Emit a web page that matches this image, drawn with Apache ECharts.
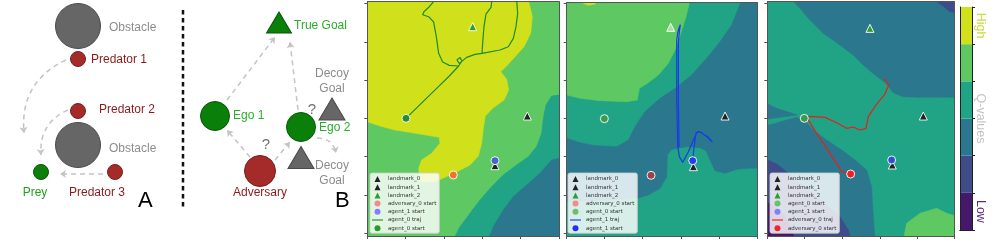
<!DOCTYPE html>
<html><head><meta charset="utf-8">
<script src="https://cdn.jsdelivr.net/npm/echarts@6/dist/echarts.min.js"></script>
<style>html,body{margin:0;padding:0;background:#fff}#c{width:997px;height:244px}</style>
</head><body><div id="c"></div><script>
// ---------------- DATA ----------------
// Diagram panels A / B (figure pixel coordinates)
const nodeNames = ['Obstacle','Predator 1','Predator 2','Obstacle','Prey','Predator 3','True Goal','Ego 1','Ego 2','Adversary','Decoy\nGoal','Decoy\nGoal'];
const nodeKind  = ['obstacle','predator','predator','obstacle','prey','predator','goal','ego','ego','adversary','decoy','decoy'];
const nodeX = [78, 78, 78, 78, 41, 115, 279, 215, 301, 260, 332, 301];
const nodeY = [26, 59, 111, 145, 172, 172, 22.5, 116, 127, 171, 109, 157.5];
const arrowFrom = [[66,60],[68,110],[103,174],[250,157],[275,160],[227,100],[298,110],[317,138]];
const arrowTo   = [[24,133],[41,155],[60,174],[227,130],[290,142],[275,37],[290,42],[336,153]];
const arrowBend = [-0.35,-0.35,0,0,0,0,0,0.4];
const separatorLine = [[183,10],[183,210]];
const questionMarks = ['?','?'];
const panelLetters = ['A','B','C(i)','C(ii)','C(iii)'];

// Q-value contour levels (0 = low ... 5 = high), plot coordinates
const c1Levels = [4,5,3,2];
const c1Polys = [
  [[0,0],[700,0],[700,720],[0,720]],
  [[0,0],[505,0],[517,50],[512,100],[492,140],[465,170],[440,198],[422,215],[440,238],[446,270],[432,300],[398,325],[376,348],[370,385],[365,430],[355,468],[330,495],[292,515],[255,532],[225,545],[180,545],[176,505],[185,480],[215,460],[240,430],[238,412],[180,402],[105,390],[60,378],[22,365],[0,364]],
  [[700,270],[575,288],[558,315],[550,355],[545,400],[530,440],[505,470],[470,495],[430,525],[395,560],[360,600],[330,640],[300,680],[280,720],[700,720]],
  [[700,450],[575,480],[540,520],[500,555],[460,590],[430,630],[400,680],[385,720],[700,720]]
];
const c2Levels = [3,4,5,2];
const c2Polys = [
  [[0,0],[700,0],[700,720],[0,720]],
  [[0,0],[390,0],[378,50],[362,100],[345,150],[325,190],[295,225],[262,250],[238,265],[232,300],[200,305],[120,302],[60,295],[20,285],[0,283]],
  [[65,0],[112,0],[105,12],[85,16],[70,10]],
  [[545,0],[700,0],[700,500],[560,505],[530,508],[495,520],[465,512],[450,480],[438,452],[420,443],[380,440],[335,448],[322,465],[320,530],[300,565],[265,585],[230,595],[150,600],[20,605],[0,605],[0,415],[20,415],[60,428],[105,437],[170,440],[205,420],[228,375],[255,335],[300,295],[350,262],[395,225],[440,175],[480,125],[515,75]]
];
const c3Levels = [3,2,1,2,2,1,0,4];
const c3Polys = [
  [[0,0],[700,0],[700,720],[0,720]],
  [[95,0],[700,0],[700,290],[540,292],[480,292],[430,290],[400,278],[378,250],[345,225],[310,195],[280,165],[240,135],[190,100],[150,60],[120,25]],
  [[525,0],[700,0],[700,50],[570,35],[545,15]],
  [[0,380],[40,372],[80,360],[110,352],[135,362],[160,390],[200,420],[245,450],[285,480],[320,510],[335,560],[338,620],[345,720],[0,720]],
  [[0,300],[50,325],[112,345],[60,352],[0,360]],
  [[0,470],[50,492],[100,530],[150,575],[200,615],[240,650],[265,690],[275,720],[0,720]],
  [[0,600],[40,615],[75,650],[95,690],[105,720],[0,720]],
  [[430,720],[440,670],[480,640],[530,625],[560,640],[700,680],[700,720]]
];

// Markers per panel
const c1Landmark0 = [[502,348]], c1Landmark1 = [[405,497]], c1Landmark2 = [[338,80]];
const c1Adversary = [[280,525]], c1Agent1 = [[405,482]], c1Agent0 = [[138,355]];
const c1Traj = [
  [[138,355],[180,314],[230,265],[268,228],[296,198],[306,183],[300,172],[291,180],[298,190],[320,172],[345,163],[366,160],[368,130],[372,80],[378,42],[393,22],[396,0]],
  [[225,0],[208,20],[192,35],[188,44],[206,50],[221,66],[229,110],[236,160],[248,186],[268,196],[296,198]],
  [[366,160],[420,150],[445,140],[460,115],[468,80],[473,40],[470,0]]
];
const c2Landmark0 = [[495,348]], c2Landmark1 = [[400,500]], c2Landmark2 = [[332,82]];
const c2Adversary = [[273,526]], c2Agent0 = [[133,356]], c2Agent1 = [[398,482]];
const c2Traj = [
  [[398,482],[402,440],[408,398],[420,396],[445,412],[457,426],[440,410],[425,398],[412,395],[400,420],[385,455],[368,487],[358,470],[353,440],[350,300],[350,120],[353,98],[357,84],[361,74],[358,95],[355,125],[355,300],[357,442]]
];
const c3Landmark0 = [[490,348]], c3Landmark1 = [[397,495]], c3Landmark2 = [[330,85]];
const c3Agent0 = [[133,355]], c3Agent1 = [[395,480]], c3Adversary = [[272,522]];
const c3Traj = [
  [[272,522],[245,515],[230,490],[200,445],[170,400],[140,352],[150,349],[195,352],[230,368],[260,385],[280,381],[300,390],[318,385],[325,350],[350,312],[375,282],[386,255],[372,235]]
];
const c1Legend = ['landmark_0','landmark_1','landmark_2','adversary_0 start','agent_1 start','agent_0 traj','agent_0 start'];
const c2Legend = ['landmark_0','landmark_1','landmark_2','adversary_0 start','agent_0 start','agent_1 traj','agent_1 start'];
const c3Legend = ['landmark_0','landmark_1','landmark_2','agent_0 start','agent_1 start','adversary_0 traj','adversary_0 start'];

// Colour bar
const cbLevels = [0,1,2,3,4,5];
const cbLabels = ['Low','Q-values','High'];
const cbLabelAt = [0.5, 3, 5.5];

// ---------------- STYLE ----------------
const LEVEL_COLORS = ['#46186c','#3e4c8a','#2b788e','#21a386','#5ec962','#d0e11c'];
const kindStyle = {
  obstacle: {symbol:'circle', size:45, color:'#666666', border:'#4a4a4a', label:'#8c8c8c'},
  predator: {symbol:'circle', size:15, color:'#a52a2a', border:'#7a1d1d', label:'#8b1a1a'},
  prey:     {symbol:'circle', size:15, color:'#0a7f0a', border:'#065806', label:'#1f9f1f'},
  goal:     {symbol:'triangle', size:[25,21], color:'#0a7f0a', border:'#065806', label:'#2aae2a'},
  ego:      {symbol:'circle', size:29, color:'#0a7f0a', border:'#065806', label:'#2aae2a'},
  adversary:{symbol:'circle', size:31, color:'#a52a2a', border:'#7a1d1d', label:'#8b1a1a'},
  decoy:    {symbol:'triangle', size:[26,22], color:'#666666', border:'#4a4a4a', label:'#8c8c8c'}
};
// label anchors [x, y, align]
const labelAnchor = [[109,28,'left'],[91,60,'left'],[99,110,'left'],[109,149,'left'],[35,193,'center'],[97,193,'center'],
  [294,26,'left'],[233,116,'left'],[319,128,'left'],[260,193,'center'],[332,81.5,'center'],[332,173,'center']];
const qmarkPos = [[266,145],[312,110]];
const letterPos = [[138,201,22],[335,201,22],[517,204,24],[703,204,24],[900,204,24]];

const panels = [
  {grid:{left:367.3, top:1.7, width:191.7, height:234.3}, x:[22,597], y:[5,708],
   xt:[22,137,252,367,482,597], yt:[10,127,241,355,470,586,700], levels:c1Levels, polys:c1Polys, legend:c1Legend, legendLeft:370,
   trajName:'agent_0 traj', traj:c1Traj, trajColor:'#1f8a1f',
   markers:[
     {name:'landmark_0', data:c1Landmark0, symbol:'triangle', color:'#222', size:8, leg:'#222'},
     {name:'landmark_1', data:c1Landmark1, symbol:'triangle', color:'#222', size:8, leg:'#222'},
     {name:'landmark_2', data:c1Landmark2, symbol:'triangle', color:'#2ca02c', size:8, leg:'#2ca02c'},
     {name:'adversary_0 start', data:c1Adversary, symbol:'circle', color:'#f07428', size:8, leg:'#f58a8a'},
     {name:'agent_1 start', data:c1Agent1, symbol:'circle', color:'#4a64c8', size:8, leg:'#8080ff'},
     {name:'agent_0 start', data:c1Agent0, symbol:'circle', color:'#2a8c2a', size:8, leg:'#2a9a2a'}
   ]},
  {grid:{left:566.7, top:2.7, width:190.7, height:233.3}, x:[20,592], y:[8,708],
   xt:[20,134,248,363,478,592], yt:[10,127,241,355,470,586,700], levels:c2Levels, polys:c2Polys, legend:c2Legend, legendLeft:568,
   trajName:'agent_1 traj', traj:c2Traj, trajColor:'#1a3be8',
   markers:[
     {name:'landmark_0', data:c2Landmark0, symbol:'triangle', color:'#222', size:8, leg:'#222'},
     {name:'landmark_1', data:c2Landmark1, symbol:'triangle', color:'#222', size:8, leg:'#222'},
     {name:'landmark_2', data:c2Landmark2, symbol:'triangle', color:'#a9dfa0', size:8, leg:'#2ca02c'},
     {name:'adversary_0 start', data:c2Adversary, symbol:'circle', color:'#9e4048', size:8, leg:'#f58a8a'},
     {name:'agent_0 start', data:c2Agent0, symbol:'circle', color:'#3a9a4e', size:8, leg:'#6cbf6c'},
     {name:'agent_1 start', data:c2Agent1, symbol:'circle', color:'#2040f0', size:8, leg:'#1f2ff5'}
   ]},
  {grid:{left:767.3, top:1.7, width:187, height:234.3}, x:[22,583], y:[5,708],
   xt:[22,134,247,360,472,583], yt:[10,127,241,355,470,586,700], levels:c3Levels, polys:c3Polys, legend:c3Legend, legendLeft:770,
   trajName:'adversary_0 traj', traj:c3Traj, trajColor:'#e5201c',
   markers:[
     {name:'landmark_0', data:c3Landmark0, symbol:'triangle', color:'#222', size:8, leg:'#222'},
     {name:'landmark_1', data:c3Landmark1, symbol:'triangle', color:'#222', size:8, leg:'#222'},
     {name:'landmark_2', data:c3Landmark2, symbol:'triangle', color:'#2ca02c', size:8, leg:'#2ca02c'},
     {name:'agent_0 start', data:c3Agent0, symbol:'circle', color:'#3a9a4e', size:8, leg:'#6cbf6c'},
     {name:'agent_1 start', data:c3Agent1, symbol:'circle', color:'#3052d2', size:8, leg:'#8080ff'},
     {name:'adversary_0 start', data:c3Adversary, symbol:'circle', color:'#ee2020', size:8, leg:'#f52525'}
   ]}
];

// ---------------- BUILD ----------------
const grids = [{left:0, top:0, width:360, height:244}];
const xAxes = [{gridIndex:0, type:'value', min:0, max:360, show:false}];
const yAxes = [{gridIndex:0, type:'value', min:0, max:244, inverse:true, show:false}];
const series = [];
const legends = [];
const graphics = [];
const spine = {show:true, onZero:false, lineStyle:{color:'#555', width:1}};

// diagram nodes
series.push({
  type:'scatter', xAxisIndex:0, yAxisIndex:0, z:5, silent:true,
  data: nodeNames.map((n,i) => {
    const st = kindStyle[nodeKind[i]];
    const a = labelAnchor[i];
    return {
      value:[nodeX[i], nodeY[i]], symbol:st.symbol, symbolSize:st.size,
      itemStyle:{color:st.color, borderColor:st.border, borderWidth:1, opacity:1},
      label:{show:true, formatter:n, position:'inside', offset:[a[0]-nodeX[i], a[1]-nodeY[i]], align:a[2], verticalAlign:'middle',
        color:st.label, fontSize:12, lineHeight:15, fontFamily:'Liberation Sans, Arial, sans-serif'}
    };
  })
});
// arrows
series.push({
  type:'lines', coordinateSystem:'cartesian2d', xAxisIndex:0, yAxisIndex:0, z:3, silent:true,
  symbol:['none','arrow'], symbolSize:6,
  data: arrowFrom.map((f,i) => ({coords:[f, arrowTo[i]], lineStyle:{curveness:arrowBend[i]}})),
  lineStyle:{color:'#c4c4c4', width:1.5, type:[5,4], opacity:1},
  itemStyle:{color:'#c4c4c4'}
});
// separator
series.push({type:'line', xAxisIndex:0, yAxisIndex:0, data:separatorLine, symbol:'none', silent:true,
  lineStyle:{color:'#111', width:2.5, type:[4.5,3.5]}});
qmarkPos.forEach((p,i) => graphics.push({type:'text', x:p[0], y:p[1], style:{text:questionMarks[i], fill:'#707070',
  font:'15px "Liberation Sans", Arial, sans-serif', textAlign:'center', textVerticalAlign:'middle'}}));
panelLetters.forEach((t,i) => graphics.push({type:'text', x:letterPos[i][0], y:letterPos[i][1], style:{text:t, fill:'#000',
  font:letterPos[i][2]+'px "Liberation Sans", Arial, sans-serif', textAlign:'left', textVerticalAlign:'middle'}}));

panels.forEach((p, k) => {
  const gi = k + 1, xi = 2*k + 1;
  grids.push(p.grid);
  const tick = {show:true, length:3, lineStyle:{color:'#555'}};
  xAxes.push({gridIndex:gi, type:'value', min:p.x[0], max:p.x[1], position:'bottom', z:10, axisLine:spine,
    axisTick:Object.assign({customValues:p.xt}, tick), axisLabel:{show:false}, splitLine:{show:false}});
  xAxes.push({gridIndex:gi, type:'value', min:p.x[0], max:p.x[1], position:'top', z:10, axisLine:spine,
    axisTick:{show:false}, axisLabel:{show:false}, splitLine:{show:false}});
  yAxes.push({gridIndex:gi, type:'value', min:p.y[0], max:p.y[1], inverse:true, position:'left', z:10, axisLine:spine,
    axisTick:Object.assign({customValues:p.yt}, tick), axisLabel:{show:false}, splitLine:{show:false}});
  yAxes.push({gridIndex:gi, type:'value', min:p.y[0], max:p.y[1], inverse:true, position:'right', z:10, axisLine:spine,
    axisTick:{show:false}, axisLabel:{show:false}, splitLine:{show:false}});
  const polys = p.polys, levels = p.levels;
  series.push({
    type:'custom', xAxisIndex:xi, yAxisIndex:xi, clip:true, silent:true, z:1,
    data: polys.map((pl, i) => [pl[0][0], pl[0][1], i]),
    renderItem: (params, api) => {
      const i = api.value(2);
      const c = LEVEL_COLORS[levels[i]];
      return {type:'polygon', shape:{points: polys[i].map(pt => api.coord(pt))}, style:{fill:c, stroke:c, lineWidth:0.6}};
    }
  });
  p.traj.forEach(seg => series.push({
    type:'line', name:p.trajName, xAxisIndex:xi, yAxisIndex:xi, data:seg, symbol:'none', clip:true, silent:true, z:3,
    lineStyle:{color:p.trajColor, width:1.2}, itemStyle:{color:p.trajColor}
  }));
  p.markers.forEach(m => series.push({
    type:'scatter', name:m.name, xAxisIndex:xi, yAxisIndex:xi, data:m.data, symbol:m.symbol, symbolSize:m.size, z:4, silent:true,
    itemStyle:{color:m.color, borderColor:'#fff', borderWidth:0.9, opacity:1}
  }));
  const legColor = {};
  p.markers.forEach(m => legColor[m.name] = m);
  legends.push({
    orient:'vertical', left:p.legendLeft, top:173, itemWidth:11, itemHeight:6, itemGap:2.2,
    padding:[3,3,2,2], backgroundColor:'rgba(255,255,255,0.82)', borderColor:'#cfcfcf', borderWidth:0.8, borderRadius:2,
    selectedMode:false, textStyle:{fontSize:5.5, fontFamily:'DejaVu Sans', color:'#333', lineHeight:6},
    data: p.legend.map(name => {
      if (name === p.trajName) return {name, icon:'path://M0,0H20V2H0Z', itemStyle:{color:p.trajColor, borderWidth:0}};
      const m = legColor[name];
      return {name, icon: m.symbol === 'triangle' ? 'path://M5,0L10,10L0,10Z' : 'circle', itemStyle:{color:m.leg, borderWidth:0}};
    })
  });
});

// colour bar
grids.push({left:960, top:7, width:12, height:223});
xAxes.push({gridIndex:4, type:'category', data:['Q'], position:'bottom', axisLine:{show:true, lineStyle:{color:'#222', width:1}}, axisTick:{show:false}, axisLabel:{show:false}, z:10});
xAxes.push({gridIndex:4, type:'category', data:['Q'], position:'top', axisLine:{show:true, lineStyle:{color:'#222', width:1}}, axisTick:{show:false}, axisLabel:{show:false}, z:10});
yAxes.push({gridIndex:4, type:'value', min:0, max:6, interval:1, position:'right', z:10,
  axisLine:{show:true, onZero:false, lineStyle:{color:'#222', width:1}}, axisTick:{show:true, length:3, lineStyle:{color:'#222'}},
  axisLabel:{show:false}, splitLine:{show:false}});
yAxes.push({gridIndex:4, type:'value', min:0, max:6, position:'left', z:10,
  axisLine:{show:true, onZero:false, lineStyle:{color:'#222', width:1}}, axisTick:{show:false}, axisLabel:{show:false}, splitLine:{show:false}});
cbLevels.forEach(l => series.push({type:'bar', xAxisIndex:7, yAxisIndex:7, stack:'cb', data:[1], barCategoryGap:'0%', silent:true,
  itemStyle:{color:LEVEL_COLORS[l]}}));
const cbColors = ['#5b2c86','#c4c4c4','#c9dc3a'];
cbLabels.forEach((t,i) => graphics.push({type:'text', x:980, y:7 + (6 - cbLabelAt[i]) / 6 * 223, rotation:-Math.PI/2,
  style:{text:t, fill:cbColors[i], font:'12.5px "Liberation Sans", Arial, sans-serif', textAlign:'center', textVerticalAlign:'middle'}}));

const chart = echarts.init(document.getElementById('c'));
chart.setOption({animation:false, grid:grids, xAxis:xAxes, yAxis:yAxes, series, legend:legends, graphic:graphics});
</script></body></html>
